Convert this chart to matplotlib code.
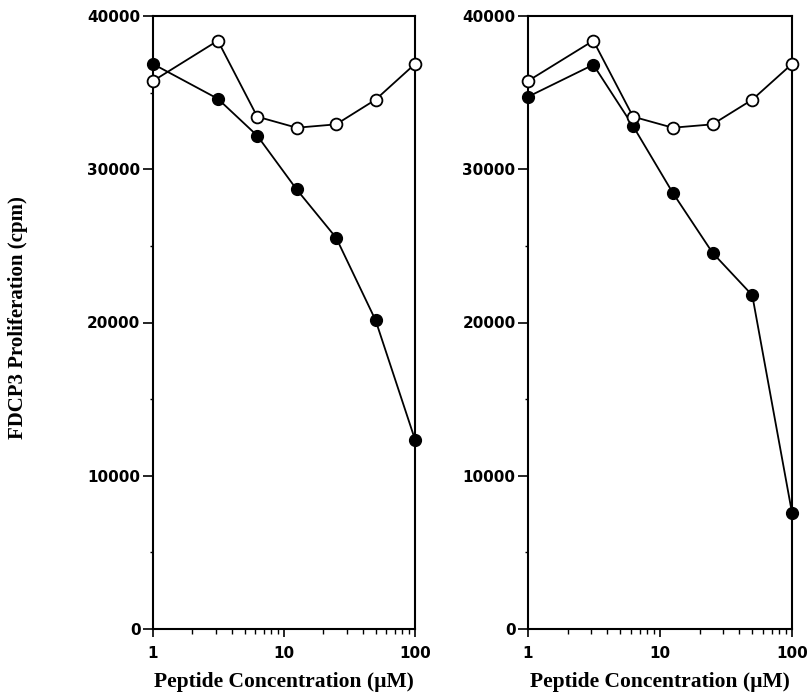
import matplotlib
matplotlib.use("Agg")
import matplotlib.pyplot as plt
from matplotlib.ticker import MultipleLocator, NullFormatter, LogLocator

conc = [1, 3.125, 6.25, 12.5, 25, 50, 100]
left_filled = [36870, 34600, 32190, 28680, 25530, 20150, 12360]
left_open = [35760, 38390, 33430, 32710, 32930, 34540, 36870]
right_filled = [34730, 36820, 32820, 28460, 24550, 21780, 7580]
right_open = [35760, 38390, 33430, 32710, 32930, 34540, 36870]
y_ticks = [0, 10000, 20000, 30000, 40000]
x_ticks = [1, 10, 100]
x_ticklabels = ["1", "10", "100"]
ylabel = "FDCP3 Proliferation (cpm)"
xlabel = "Peptide Concentration (\u00b5M)"

fig = plt.figure(figsize=(8.07, 6.98), dpi=100)
ax1 = fig.add_axes([153/807, 69/698, 262/807, 613/698])
ax2 = fig.add_axes([528/807, 69/698, 264/807, 613/698])

tickfont = dict(family="DejaVu Sans", weight="bold", size=11)
for ax, filled, opn in [(ax1, left_filled, left_open), (ax2, right_filled, right_open)]:
    ax.plot(conc, filled, color="black", lw=1.3, marker="o", ms=8.5,
            mfc="black", mec="black", clip_on=False, zorder=3)
    ax.plot(conc, opn, color="black", lw=1.3, marker="o", ms=8.5,
            mfc="white", mec="black", mew=1.3, clip_on=False, zorder=4)
    ax.set_xscale("log")
    ax.set_xlim(1, 100)
    ax.set_ylim(0, 40000)
    ax.set_xticks(x_ticks)
    ax.set_xticklabels(x_ticklabels, fontdict=tickfont)
    ax.xaxis.set_minor_locator(LogLocator(base=10, subs=range(2, 10)))
    ax.xaxis.set_minor_formatter(NullFormatter())
    ax.set_yticks(y_ticks)
    ax.set_yticklabels([str(v) for v in y_ticks], fontdict=tickfont)
    ax.yaxis.set_minor_locator(MultipleLocator(5000))
    ax.tick_params(axis="x", which="major", direction="out", length=6, width=1.2, pad=6)
    ax.tick_params(axis="x", which="minor", direction="out", length=3.5, width=1.0)
    ax.tick_params(axis="y", which="major", direction="out", length=7, width=1.2, pad=2)
    ax.tick_params(axis="y", which="minor", direction="out", length=2, width=1.0)
    ax.tick_params(top=False, right=False, which="both")
    for s in ax.spines.values():
        s.set_linewidth(1.5)
    ax.set_xlabel(xlabel, family="Liberation Serif", weight="bold", size=15.5, labelpad=8)

fig.text(18/807, 1 - 318/698, ylabel, rotation=90, ha="center", va="center",
         family="Liberation Serif", weight="bold", size=15)

fig.savefig("out.png", dpi=100)
